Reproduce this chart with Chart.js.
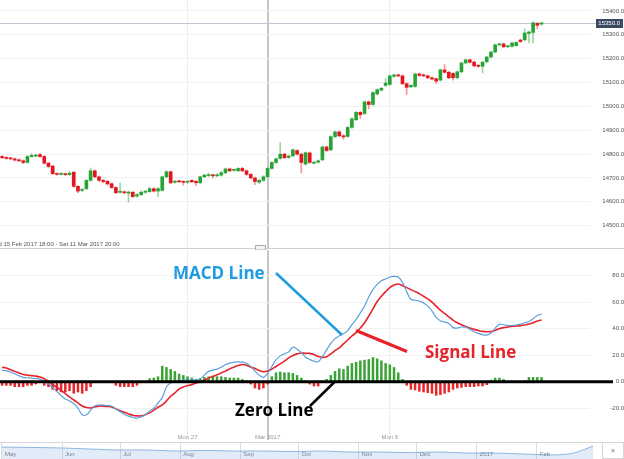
<!DOCTYPE html>
<html>
<head>
<meta charset="utf-8">
<script src="https://cdn.jsdelivr.net/npm/chart.js@4.4.1/dist/chart.umd.min.js"></script>
<style>
  html, body { margin: 0; padding: 0; background: #fff; }
  #wrap { position: relative; width: 624px; height: 459px; overflow: hidden; }
  canvas { position: absolute; left: 0; }
</style>
</head>
<body>
<div id="wrap">
  <canvas id="priceChart" width="624" height="250" style="top:0"></canvas>
  <canvas id="macdChart" width="624" height="192" style="top:250px"></canvas>
  <canvas id="navChart" width="624" height="17" style="top:442px"></canvas>
</div>
<script>
// ---- data ----
const SLOTS = 140;                       // candle slots on the shared time axis
const dateTicks = [[44, 'Mon 27'], [63, 'Mar 2017'], [92, 'Mon 6']];
const crosshairSlot = 63;

const opens = [14790,14785,14783,14780,14776,14772,14765,14790,14792,14798,14790,14762,14750,14718,14715,14717,14714,14724,14665,14648,
  14655,14690,14730,14705,14690,14686,14676,14660,14640,14642,14636,14640,14624,14630,14640,14643,14655,14645,14648,14705,
  14726,14682,14686,14684,14682,14690,14686,14680,14705,14710,14712,14709,14712,14722,14738,14732,14730,14740,14730,14715,
  14700,14682,14690,14705,14740,14765,14782,14800,14786,14793,14815,14800,14758,14805,14762,14766,14776,14830,14818,14873,
  14893,14877,14874,14912,14944,14975,14970,15019,15008,15052,15068,15088,15092,15126,15130,15128,15095,15082,15084,15136,
  15132,15128,15120,15116,15110,15153,15143,15138,15120,15145,15182,15195,15186,15172,15168,15187,15207,15228,15258,15262,
  15250,15252,15255,15278,15279,15306,15310,15348,15345];
const highs = [14794,14789,14787,14784,14780,14776,14794,14803,14800,14803,14794,14766,14753,14722,14724,14720,14728,14727,14668,14656,
  14694,14742,14734,14708,14694,14690,14680,14664,14680,14646,14645,14644,14636,14648,14650,14662,14659,14660,14708,14730,
  14729,14690,14690,14688,14690,14693,14690,14708,14716,14720,14716,14718,14728,14742,14742,14737,14744,14745,14734,14719,
  14704,14694,14710,14744,14768,14784,14848,14804,14796,14822,14819,14804,14810,14809,14770,14776,14834,14834,14877,14897,
  14897,14881,14916,14952,14979,14979,15023,15023,15062,15074,15080,15118,15132,15136,15136,15132,15099,15092,15140,15140,
  15136,15132,15124,15120,15157,15175,15147,15142,15149,15186,15199,15199,15190,15176,15189,15211,15232,15262,15266,15266,
  15256,15270,15272,15282,15325,15316,15356,15352,15354];
const lows = [14781,14778,14776,14771,14768,14760,14762,14786,14788,14786,14758,14744,14714,14711,14712,14710,14711,14660,14638,14642,
  14650,14686,14700,14686,14680,14670,14656,14634,14636,14634,14598,14618,14620,14626,14636,14640,14641,14622,14645,14700,
  14676,14678,14680,14670,14678,14680,14668,14676,14700,14706,14700,14705,14708,14718,14726,14728,14726,14726,14711,14696,
  14672,14676,14686,14701,14736,14760,14778,14781,14782,14789,14796,14722,14754,14761,14758,14762,14772,14811,14814,14869,
  14873,14862,14870,14908,14940,14950,14966,14990,15004,15048,15064,15084,15088,15122,15124,15091,15050,15078,15080,15126,
  15124,15116,15111,15096,15106,15139,15116,15110,15116,15141,15178,15181,15166,15164,15140,15183,15203,15224,15254,15246,
  15246,15248,15251,15268,15275,15266,15266,15325,15341];
const closes = [14785,14782,14780,14775,14772,14765,14790,14795,14796,14790,14762,14748,14718,14715,14718,14714,14720,14665,14645,14650,
  14690,14730,14705,14690,14685,14675,14660,14638,14641,14638,14641,14622,14630,14640,14643,14655,14645,14655,14705,14726,
  14680,14686,14684,14682,14686,14684,14680,14705,14712,14712,14709,14712,14722,14738,14730,14733,14740,14730,14715,14700,
  14685,14690,14705,14740,14765,14780,14800,14785,14792,14818,14800,14765,14806,14765,14766,14772,14830,14815,14873,14893,
  14877,14872,14912,14948,14975,14965,15019,15008,15058,15070,15076,15098,15128,15132,15128,15095,15080,15088,15136,15130,
  15128,15120,15115,15106,15153,15143,15120,15120,15145,15182,15195,15185,15170,15168,15185,15207,15228,15258,15262,15250,
  15252,15266,15268,15272,15308,15312,15350,15340,15350];

const macdLine = [8.7,8.2,7.3,6,4.5,3.3,3,2.7,2.4,2,0.5,-1.5,-4.5,-7.5,-10.5,-13,-14.5,-16.5,-20,-25,
  -25,-21.5,-18.3,-17.6,-17.6,-18,-18.5,-20.5,-22.6,-24.5,-26,-26.8,-27.5,-26.5,-25,-22,-20,-16,-12,-4,
  -1,0,0.8,1.2,1.3,1.3,1.5,2,5,7.8,8.8,9.5,11,12.8,14,14.8,15,14.8,14,11.5,
  8,5,3.3,6.5,11.5,16.5,19.5,21,22.5,26,24.5,22,18.5,16.8,15.5,15,19,24,29,32.5,
  34.5,36.3,38.5,43,47,52,57,64,69.5,73.5,76.2,77.5,79,79.5,79,75,68,62.2,61.5,60.8,
  59.5,57,53.5,48.5,46,45,44,40.8,40.5,41.3,41.2,39.5,37.7,36.5,35.5,35.2,36.8,40.5,43.3,43,
  42.3,42.5,42.8,43.5,44.5,45.5,47.5,50,51];
const signalLine = [11,10.3,9,7.8,6.5,5.5,5,4.6,4.2,3.5,2.3,0.5,-2,-4.3,-6.5,-9,-11.5,-13.8,-16,-18.3,
  -19.5,-19.8,-19,-18.4,-18.4,-18.7,-19,-20.5,-21.9,-23,-24.4,-25.3,-25.8,-25.8,-24.8,-23.5,-21.5,-19.3,-17.5,-14.5,
  -11,-8.5,-5.5,-4,-3,-2.2,-1,0,1.3,2.7,4,5.2,6.6,8,9.7,11,12.2,13,12.5,11,
  10,8.5,7.5,8,9.5,11.5,13.5,15.5,18,19.8,21,21.7,21.4,21.4,20.5,19,18.4,18.9,21,23.5,
  25.5,28.5,31.5,34.5,37,40.5,44.5,49.5,55,60.5,64.5,68,71,73,73.7,72.5,71,69.5,68,66.5,
  64.5,62.5,60,57,54,51.5,49,46.5,44.5,43,41.7,40.5,39.5,38.7,38,37.7,37.8,38.7,40,40.8,
  41.3,41.8,42,42.3,42.8,43.5,44.5,45.8,46.6];
const histogram = [-3,-3,-3,-4,-4,-4,-3,-3,-2,0,-3,-4,-6,-7,-8,-8,-7,-9,-8,-9,
  -7,-4,0,0,0,0,-1,-3,-4,-4,-4,-4,-3,-1,0,2.5,3,4,12,11,
  9.5,8,6,5,4,3,2,2.5,3.5,4,4.5,4,4,3.5,3,3,3,2,1,-2,
  -5,-6,-5,-2,4,7,7.5,7,7,6.5,5,3,1,-2,-3.5,-3.5,-1,2,5,8,
  10,9.5,12,14,15,16,16.5,17,18.5,17.5,16,14,13,11,7,2,-3,-6,-6.5,-7.5,
  -8,-8.5,-9,-10.5,-10,-9,-8,-6,-5,-4.5,-4,-4,-4,-3.5,-3.5,-2.5,1.5,3,3,2,
  0.5,0.3,0.3,0.5,1,3.5,3.5,3.5,3.5];

const priceTicks = [14500, 14600, 14700, 14800, 14900, 15000, 15100, 15200, 15300, 15400];
const macdTicks = [-20, 0, 20, 40, 60, 80];

const monthNames = ['May', 'Jun', 'Jul', 'Aug', 'Sep', 'Oct', 'Nov', 'Dec', '2017', 'Feb'];
const monthStarts = [0, 31, 61, 92, 123, 153, 184, 214, 245, 276];
const navDays = [0,15,30,45,60,75,90,105,120,135,150,165,180,195,210,225,240,255,270,285,295,305];
const navValues = [70,68,65,59,53,53,47,50,47,47,44,47,41,41,38,41,35,35,29,24,35,76];

// ---- styles ----
const GREEN = '#2aa336';
const RED = '#e3161d';
const TICK_FONT = { family: '"Liberation Sans", Arial, sans-serif', size: 6 };

const xLabels = Array.from({ length: SLOTS }, () => '');
dateTicks.forEach(([i, t]) => { xLabels[i] = t; });

function gridColor(ctx) {
  const i = ctx.index;
  if (i === crosshairSlot) return '#c6c6c6';
  return xLabels[i] ? '#ececec' : 'rgba(0,0,0,0)';
}
function gridWidth(ctx) {
  return ctx.index === crosshairSlot ? 2 : 1;
}
function noPadY(s, w) {
  s.width = w;
  s.paddingTop = 0;
  s.paddingBottom = 0;
}
function noPadX(s, h) {
  s.height = h;
  s.paddingLeft = 0;
  s.paddingRight = 0;
}

Chart.defaults.animation = false;
Chart.defaults.plugins.legend.display = false;
Chart.defaults.plugins.tooltip.enabled = false;

// ---- price (candles) ----
const up = opens.map((o, i) => closes[i] >= o);
const bodies = opens.map((o, i) => [Math.min(o, closes[i]), Math.max(o, closes[i])]);
const wicks = lows.map((l, i) => [l, highs[i]]);

const pricePlugin = {
  id: 'priceDecor',
  beforeDatasetsDraw(chart) {
    const c = chart.ctx;
    const py = Math.round(chart.scales.y.getPixelForValue(closes[closes.length - 1])) + 0.5;
    c.save();
    c.strokeStyle = '#c4c4d4';
    c.lineWidth = 1;
    c.beginPath(); c.moveTo(0, py); c.lineTo(596, py); c.stroke();
    c.restore();
  },
  afterDraw(chart) {
    const c = chart.ctx;
    const last = closes[closes.length - 1];
    const py = Math.round(chart.scales.y.getPixelForValue(last)) + 0.5;
    c.save();
    c.fillStyle = '#3b4a63';
    c.fillRect(596, py - 4.5, 27, 9);
    c.fillStyle = '#fff';
    c.font = '6px "Liberation Sans", Arial, sans-serif';
    c.textAlign = 'right';
    c.textBaseline = 'middle';
    c.fillText(last.toFixed(1), 620, py);

    c.strokeStyle = '#cfcfcf';
    c.lineWidth = 1;
    c.beginPath(); c.moveTo(0, 248.5); c.lineTo(624, 248.5); c.stroke();

    c.fillStyle = '#555';
    c.textAlign = 'left';
    c.fillText('Wed 15 Feb 2017 18:00 - Sat 11 Mar 2017 20:00', -10.5, 244.5);

    c.fillStyle = '#f2f2f2';
    c.strokeStyle = '#aaa';
    c.fillRect(255.5, 245.5, 10, 4.5);
    c.strokeRect(255.5, 245.5, 10, 4.5);
    c.restore();
  }
};

new Chart(document.getElementById('priceChart'), {
  type: 'bar',
  data: {
    labels: xLabels,
    datasets: [
      {
        data: bodies,
        backgroundColor: up.map(u => u ? GREEN : RED),
        barThickness: 3,
        grouped: false,
        minBarLength: 1,
        borderWidth: 0
      },
      {
        data: wicks,
        backgroundColor: up.map(u => u ? 'rgba(42,163,54,0.45)' : 'rgba(227,22,29,0.45)'),
        barThickness: 1,
        grouped: false,
        borderWidth: 0
      }
    ]
  },
  options: {
    responsive: false,
    devicePixelRatio: 1,
    layout: { padding: 0 },
    scales: {
      x: {
        offset: true,
        ticks: { display: false },
        grid: { offset: false, color: gridColor, lineWidth: gridWidth, drawTicks: false },
        border: { display: false },
        afterFit: s => noPadX(s, 2)
      },
      y: {
        position: 'right',
        min: 14406.5,
        max: 15446,
        afterBuildTicks: a => { a.ticks = priceTicks.map(v => ({ value: v })); },
        ticks: { font: TICK_FONT, color: '#555', padding: 8, crossAlign: 'far', callback: v => v.toFixed(1) },
        grid: { color: '#f1f1f1', drawTicks: false },
        border: { display: false },
        afterFit: s => noPadY(s, 34)
      }
    }
  },
  plugins: [pricePlugin]
});

// ---- MACD ----
const macdPlugin = {
  id: 'macdNotes',
  afterDatasetsDraw(chart) {
    const c = chart.ctx;
    const y0 = chart.scales.y.getPixelForValue(0);
    c.save();
    c.strokeStyle = '#000';
    c.lineWidth = 3;
    c.beginPath(); c.moveTo(0, y0); c.lineTo(613, y0); c.stroke();

    c.lineCap = 'butt';
    c.lineWidth = 2.5;
    c.strokeStyle = '#1f9be0';
    c.beginPath(); c.moveTo(276, 23); c.lineTo(342, 85); c.stroke();
    c.lineWidth = 3;
    c.strokeStyle = '#e8222b';
    c.beginPath(); c.moveTo(356, 80.5); c.lineTo(407, 101.5); c.stroke();
    c.lineWidth = 2.5;
    c.strokeStyle = '#000';
    c.beginPath(); c.moveTo(310, 156); c.lineTo(335, 131.5); c.stroke();

    c.font = 'bold 17px "Open Sans", sans-serif';
    c.textBaseline = 'middle';
    c.textAlign = 'left';
    c.fillStyle = '#1f9be0';
    c.fillText('MACD Line', 173, 24.5);
    c.fillStyle = '#e8222b';
    c.fillText('Signal Line', 425, 103);
    c.fillStyle = '#000';
    c.fillText('Zero Line', 235, 161.5);
    c.restore();
  }
};

new Chart(document.getElementById('macdChart'), {
  type: 'bar',
  data: {
    labels: xLabels,
    datasets: [
      {
        type: 'line',
        data: macdLine,
        borderColor: '#5d9fdc',
        borderWidth: 1.2,
        pointRadius: 0,
        tension: 0.35
      },
      {
        type: 'line',
        data: signalLine,
        borderColor: '#e8222b',
        borderWidth: 1.6,
        pointRadius: 0,
        tension: 0.35
      },
      {
        type: 'bar',
        data: histogram,
        backgroundColor: histogram.map(v => v >= 0 ? '#3aa335' : '#e8262a'),
        barPercentage: 0.6,
        categoryPercentage: 1,
        borderWidth: 0
      }
    ]
  },
  options: {
    responsive: false,
    devicePixelRatio: 1,
    layout: { padding: 0 },
    scales: {
      x: {
        offset: true,
        ticks: {
          autoSkip: false, maxRotation: 0, minRotation: 0, padding: -6.6,
          font: TICK_FONT, color: '#999',
          callback: (v, i) => xLabels[i]
        },
        grid: {
          offset: false, color: gridColor, lineWidth: gridWidth,
          drawTicks: true, tickLength: 9, tickColor: gridColor, tickWidth: gridWidth
        },
        border: { display: false },
        afterFit: s => noPadX(s, 11)
      },
      y: {
        position: 'right',
        min: -37.2,
        max: 99.4,
        afterBuildTicks: a => { a.ticks = macdTicks.map(v => ({ value: v })); },
        ticks: { font: TICK_FONT, color: '#555', padding: 16, crossAlign: 'far', callback: v => v.toFixed(1) },
        grid: { color: '#f1f1f1', drawTicks: false },
        border: { display: false },
        afterFit: s => noPadY(s, 34)
      }
    }
  },
  plugins: [macdPlugin]
});

// ---- navigator ----
const navPlugin = {
  id: 'navDecor',
  afterDraw(chart) {
    const c = chart.ctx;
    c.save();
    c.strokeStyle = '#d6d6d6';
    c.lineWidth = 1;
    c.beginPath(); c.moveTo(0, 0.5); c.lineTo(624, 0.5); c.stroke();
    c.strokeRect(602.5, 0.5, 21, 16);
    c.fillStyle = '#666';
    c.font = '7px "Liberation Sans", Arial, sans-serif';
    c.textAlign = 'center';
    c.textBaseline = 'middle';
    c.fillText('×', 613, 9);
    c.restore();
  }
};

new Chart(document.getElementById('navChart'), {
  type: 'line',
  data: {
    datasets: [{
      data: navDays.map((d, i) => ({ x: d, y: navValues[i] })),
      borderColor: 'rgba(100,155,215,0.7)',
      backgroundColor: 'rgba(120,170,225,0.22)',
      borderWidth: 1,
      pointRadius: 0,
      fill: 'origin',
      tension: 0.3
    }]
  },
  options: {
    responsive: false,
    devicePixelRatio: 1,
    layout: { padding: { right: 22 } },
    scales: {
      x: {
        type: 'linear',
        min: -1,
        max: 309.6,
        afterBuildTicks: a => { a.ticks = monthStarts.map(v => ({ value: v })); },
        // mirror keeps the labels unclipped so they can sit inside the strip
        ticks: {
          mirror: true, align: 'start', labelOffset: 3, padding: 1.1, autoSkip: false,
          font: TICK_FONT, color: '#777', callback: (v, i) => monthNames[i]
        },
        grid: { color: '#dddddd', drawTicks: false },
        border: { display: false },
        afterFit: s => noPadX(s, 0)
      },
      y: { display: false, min: 0, max: 100 }
    }
  },
  plugins: [navPlugin]
});
</script>
</body>
</html>
